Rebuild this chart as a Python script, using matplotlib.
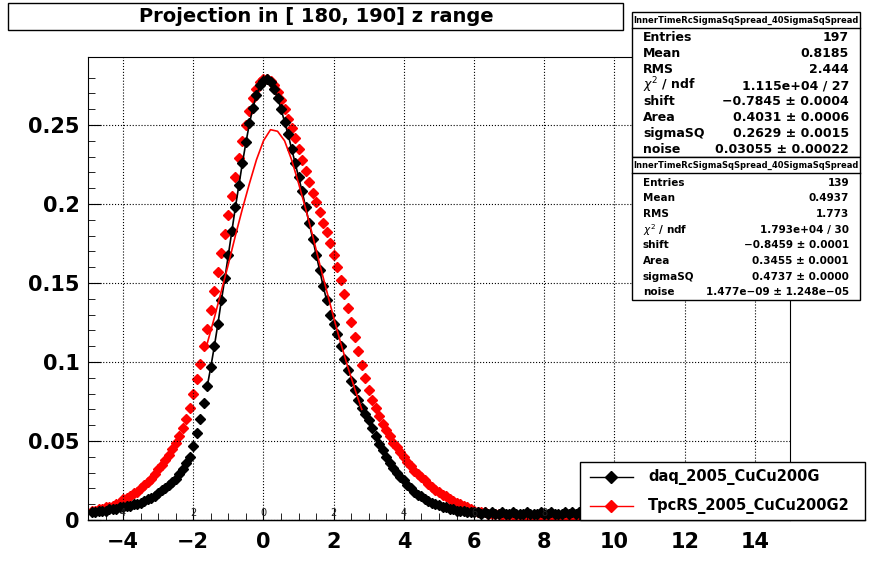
import numpy as np
import matplotlib
matplotlib.use("Agg")
import matplotlib.pyplot as plt

x_start, x_step = -4.9, 0.1
daq = [0.005,0.005,0.006,0.006,0.006,0.007,0.007,0.007,0.008,0.008,
       0.009,0.009,0.010,0.010,0.011,0.012,0.013,0.014,0.015,0.017,
       0.019,0.020,0.022,0.024,0.026,0.029,0.032,0.036,0.040,0.047,
       0.055,0.064,0.074,0.085,0.097,0.110,0.124,0.139,0.153,0.168,
       0.183,0.198,0.212,0.226,0.239,0.251,0.261,0.269,0.275,0.278,
       0.279,0.277,0.273,0.267,0.260,0.252,0.244,0.235,0.226,0.217,
       0.208,0.198,0.188,0.178,0.168,0.158,0.148,0.139,0.130,0.124,
       0.118,0.110,0.102,0.095,0.088,0.082,0.076,0.071,0.067,0.063,
       0.058,0.053,0.048,0.044,0.040,0.036,0.033,0.030,0.027,0.025,
       0.022,0.020,0.018,0.016,0.015,0.013,0.012,0.011,0.010,0.0095,
       0.008,0.008,0.007,0.007,0.006,0.006,0.006,0.005,0.005,0.005,
       0.005,0.004,0.005,0.004,0.005,0.004,0.004,0.005,0.004,0.004,
       0.005,0.004,0.004,0.004,0.005,0.004,0.004,0.004,0.005,0.004,
       0.004,0.005,0.004,0.004,0.004,0.005,0.004,0.005,0.004,0.005]
tpcrs = [0.006,0.006,0.007,0.007,0.008,0.008,0.009,0.010,0.011,0.013,
         0.014,0.015,0.017,0.018,0.020,0.022,0.024,0.026,0.029,0.032,
         0.035,0.038,0.041,0.045,0.049,0.053,0.058,0.064,0.071,0.080,
         0.089,0.099,0.110,0.121,0.133,0.145,0.157,0.169,0.181,0.193,
         0.205,0.217,0.229,0.240,0.250,0.259,0.267,0.273,0.277,0.279,
         0.279,0.278,0.275,0.271,0.266,0.260,0.254,0.248,0.242,0.235,
         0.228,0.221,0.214,0.207,0.201,0.195,0.188,0.182,0.175,0.168,
         0.160,0.152,0.143,0.134,0.125,0.116,0.107,0.098,0.090,0.082,
         0.076,0.071,0.066,0.061,0.057,0.053,0.049,0.046,0.043,0.040,
         0.037,0.034,0.031,0.029,0.027,0.025,0.023,0.021,0.019,0.018,
         0.016,0.015,0.013,0.012,0.011,0.010,0.009,0.008,0.007,0.006,
         0.005,0.005,0.005,0.004,0.004,0.004,0.004,0.003,0.003,0.003,
         0.003,0.003,0.003,0.002,0.003,0.002,0.002,0.003,0.002,0.002,
         0.002,0.002,0.002,0.002,0.002,0.002,0.002,0.002,0.002,0.002]
fit_x = [-1.6,-1.4,-1.2,-1.0,-0.8,-0.6,-0.4,-0.2,0.0,0.2,0.4,0.6,0.8,1.0,1.2,1.4,1.6,1.8,2.0,2.2,2.4,2.6,2.8]
fit_red = [0.112,0.128,0.145,0.162,0.180,0.197,0.213,0.228,0.240,0.247,0.246,0.240,0.228,0.213,
           0.197,0.180,0.162,0.145,0.128,0.112,0.097,0.083,0.070]
xticks = [-4,-2,0,2,4,6,8,10,12,14]
small_xticks = [-4,-2,0,2,4,6,8]
yticks = [0,0.05,0.1,0.15,0.2,0.25]
ylabels = ["0","0.05","0.1","0.15","0.2","0.25"]

x = x_start + x_step*np.arange(len(daq))
W, H = 878, 578
fig = plt.figure(figsize=(W/100, H/100), dpi=100)
ax = fig.add_axes([88/W, 1-520/H, (790-88)/W, (520-57)/H])
ax.set_xlim(-5, 15); ax.set_ylim(0, 0.293)

m = (x >= -1.6) & (x <= 1.8)
ax.plot(x[m], np.array(daq)[m], color='black', lw=1.2, zorder=3)
ax.plot(fit_x, fit_red, color='red', lw=1.2, zorder=4)
ax.plot(x, daq, 'D', color='black', ms=5, zorder=2)
ax.plot(x, tpcrs, 'D', color='red', ms=5, zorder=1)

ax.set_xticks(xticks)
ax.set_yticks(yticks)
ax.set_yticklabels(ylabels, fontsize=15, fontweight='bold')
ax.set_xticklabels([str(t).replace('-', '\u2212') for t in xticks], fontsize=15, fontweight='bold')
ax.set_xticks(np.arange(-5, 15.01, 0.5), minor=True)
ax.set_yticks(np.arange(0, 0.29, 0.01), minor=True)
ax.tick_params(direction='in', length=9, pad=6)
ax.tick_params(which='minor', direction='in', length=5)
ax.tick_params(axis='x', pad=9)
ax.grid(True, which='major', linestyle=':', color='black', lw=0.8)
for t in small_xticks:
    ax.text(t, 0.001, str(abs(t)), fontsize=7, ha='center', va='bottom', color='#222')
fig.add_artist(plt.Line2D([88/W, 865/W], [1-520/H]*2, color='black', lw=1))

# title
fig.add_artist(plt.Rectangle((8/W, 1-30/H), 615/W, 27/H, fill=True, fc='white', ec='black', lw=1))
fig.text(316/W, 1-17/H, "Projection in [ 180, 190] z range", ha='center', va='center',
         fontsize=14, fontweight='bold')

def statbox(y0, y1, rows, fs):
    fig.add_artist(plt.Rectangle((632/W, 1-y1/H), 228/W, (y1-y0)/H, fc='white', ec='black', lw=1, zorder=10))
    fig.text(746/W, 1-(y0+8)/H, "InnerTimeRcSigmaSqSpread_40SigmaSqSpread", ha='center', va='center',
             fontsize=6, fontweight='bold', zorder=11)
    fig.add_artist(plt.Line2D([632/W, 860/W], [1-(y0+16)/H]*2, color='black', lw=1, zorder=11))
    n = len(rows)
    h = (y1 - y0 - 18) / n
    for i, (k, v) in enumerate(rows):
        yy = 1 - (y0 + 18 + h*(i+0.5))/H
        fig.text(643/W, yy, k, ha='left', va='center', fontsize=fs, fontweight='bold', zorder=11)
        fig.text(849/W, yy, v, ha='right', va='center', fontsize=fs, fontweight='bold', zorder=11)

statbox(12, 157, [("Entries","197"),("Mean","0.8185"),("RMS","2.444"),
                  (r"$\chi^2$ / ndf","1.115e+04 / 27"),("shift","\u22120.7845 \u00b1 0.0004"),
                  ("Area","0.4031 \u00b1 0.0006"),("sigmaSQ","0.2629 \u00b1 0.0015"),
                  ("noise","0.03055 \u00b1 0.00022")], 9)
statbox(157, 300, [("Entries","139"),("Mean","0.4937"),("RMS","1.773"),
                   (r"$\chi^2$ / ndf","1.793e+04 / 30"),("shift","\u22120.8459 \u00b1 0.0001"),
                   ("Area","0.3455 \u00b1 0.0001"),("sigmaSQ","0.4737 \u00b1 0.0000"),
                   ("noise","1.477e\u221209 \u00b1 1.248e\u221205")], 7.5)

fig.add_artist(plt.Rectangle((580/W, 1-520/H), 285/W, 58/H, fc='white', ec='black', lw=1, zorder=10))
for i, (lab, c) in enumerate([("daq_2005_CuCu200G", 'black'), ("TpcRS_2005_CuCu200G2", 'red')]):
    yy = 1 - (477 + 29*i)/H
    fig.add_artist(plt.Line2D([590/W, 633/W], [yy, yy], color=c, lw=1, zorder=11))
    fig.add_artist(plt.Line2D([611/W], [yy], marker='D', color=c, ms=6, zorder=12))
    fig.text(648/W, yy, lab, ha='left', va='center', fontsize=10.5, fontweight='bold', zorder=11)

fig.savefig("out.png", dpi=100)
